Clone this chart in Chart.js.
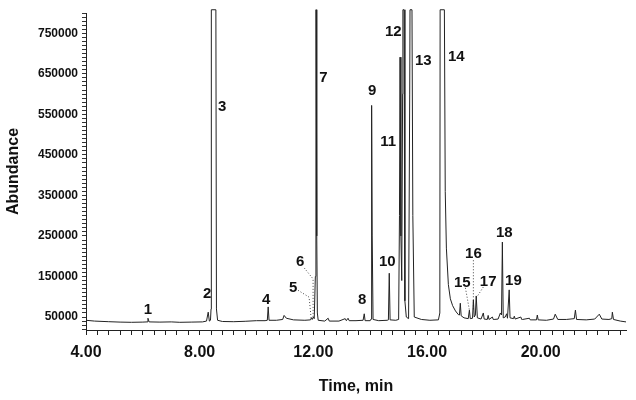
<!DOCTYPE html>
<html>
<head>
<meta charset="utf-8">
<script src="https://cdn.jsdelivr.net/npm/chart.js@4.4.1/dist/chart.umd.min.js"></script>
<style>
  html, body { margin: 0; padding: 0; background: #fff; }
  #wrap { width: 636px; height: 400px; }
</style>
</head>
<body>
<div id="wrap"><canvas id="gcChart" width="636" height="400"></canvas></div>
<script>
// chromatogram trace (time in min, abundance)
const times = [
  4.00, 4.30, 4.80, 5.20, 5.60, 6.00, 6.15, 6.18, 6.22, 6.60, 7.00, 7.30, 7.70, 8.10,
  8.24, 8.30, 8.34, 8.38, 8.40, 8.41, 8.57, 8.59, 8.63, 8.80, 9.20, 9.60, 10.00,
  10.30, 10.38, 10.41, 10.44, 10.70, 10.92, 10.97, 11.05, 11.30, 11.70, 11.90, 11.93, 11.96, 12.00, 12.03,
  12.07, 12.09, 12.10, 12.12, 12.14, 12.17, 12.40, 12.52, 12.56, 12.90, 13.12, 13.16, 13.22, 13.26, 13.50,
  13.75, 13.79, 13.82,
  14.00, 14.03, 14.05, 14.07, 14.10, 14.30, 14.60, 14.64, 14.67, 14.70, 14.90, 15.00, 15.03, 15.05, 15.08,
  15.11, 15.14, 15.15, 15.19, 15.22, 15.27, 15.35, 15.39, 15.40, 15.47, 15.50, 15.55, 15.80, 16.10, 16.40,
  16.45, 16.46, 16.61, 16.64, 16.68, 16.75, 16.82, 16.90, 17.00, 17.10, 17.14,
  17.17, 17.20, 17.30, 17.45, 17.49, 17.52, 17.60, 17.63, 17.66, 17.70, 17.73, 17.77, 17.90, 17.98, 18.01,
  18.12, 18.15, 18.18, 18.30, 18.33, 18.36, 18.50, 18.58, 18.62, 18.65, 18.68, 18.75, 18.80, 18.83, 18.89,
  18.92, 19.04, 19.07, 19.10, 19.30, 19.33, 19.36, 19.60, 19.63, 19.66, 19.85, 19.88, 19.91, 20.20, 20.45,
  20.51, 20.60, 20.90, 21.18, 21.22, 21.26, 21.60, 21.90, 22.06, 22.15, 22.40, 22.50, 22.52, 22.56, 22.80, 23.00
];
const abundance = [
  42000, 40000, 38500, 37500, 37000, 37500, 38000, 47000, 38000, 37500, 38000, 37000, 37500, 38000,
  40000, 62000, 40000, 42000, 70000, 808000, 808000, 70000, 42000, 39000, 38500, 39500, 41000,
  41000, 42000, 75000, 42000, 42000, 44000, 54000, 47000, 43000, 42000, 43000, 48000, 44000, 50000, 46000,
  150000, 808000, 808000, 250000, 60000, 42000, 40000, 47000, 40000, 40000, 46000, 41000, 47000, 41000, 41000,
  42000, 58000, 41000,
  41000, 45000, 572000, 250000, 44000, 41000, 42000, 43000, 158000, 43000, 42000, 44000, 300000, 691000, 250000,
  140000, 600000, 808000, 808000, 90000, 50000, 46000, 600000, 808000, 808000, 300000, 50000, 44000, 42000, 43000,
  60000, 808000, 808000, 360000, 220000, 130000, 95000, 78000, 65000, 56000, 55000,
  84000, 53000, 48000, 46000, 67000, 46000, 47000, 92000, 50000, 55000, 102000, 48000, 45000, 60000, 45000,
  44000, 54000, 44000, 50000, 44000, 44000, 45000, 60000, 55000, 235000, 48000, 50000, 58000, 47000, 117000,
  48000, 46000, 52000, 45000, 50000, 44000, 44000, 47000, 43000, 43000, 43000, 55000, 43000, 42000, 45000,
  57000, 44000, 44000, 46000, 67000, 44000, 43000, 45000, 57000, 45000, 44000, 46000, 62000, 44000, 40000, 38000
];

// peak numbers and where they sit
const peakNames = ['1','2','3','4','5','6','7','8','9','10','11','12','13','14','15','16','17','18','19'];
const peakLabelTime = [6.18, 8.26, 8.79, 10.34, 11.29, 11.54, 12.35, 13.72, 14.07, 14.60, 14.63, 14.81, 15.87, 17.03, 17.24, 17.63, 18.15, 18.72, 19.04];
const peakLabelAbund = [67000, 106000, 568000, 92000, 121000, 186000, 640000, 92000, 608000, 186000, 482000, 753000, 682000, 691000, 134000, 205000, 136000, 257000, 139000];

// dotted leader lines (5, 6, 15, 16, 17)
const leaderTimes = [
  [11.46, 11.85, 11.92],
  [11.68, 11.99, 11.99],
  [17.35, 17.49],
  [17.63, 17.63],
  [17.98, 17.73]
];
const leaderAbund = [
  [116000, 99000, 48000],
  [171000, 144000, 48000],
  [122000, 67000],
  [190000, 67000],
  [124000, 97000]
];

// axis ticks
const xMin = 4, xMax = 23, xStep = 0.4;
const yMin = 18000, yMax = 800000, yStep = 10000;

const FONT = "'Liberation Sans', Arial, Helvetica, sans-serif";

const peakLabelPlugin = {
  id: 'peakLabels',
  afterDatasetsDraw(chart) {
    const ctx = chart.ctx;
    const xs = chart.scales.x, ys = chart.scales.y;
    ctx.save();
    ctx.fillStyle = '#111';
    ctx.font = 'bold 15px ' + FONT;
    ctx.textAlign = 'center';
    ctx.textBaseline = 'middle';
    peakNames.forEach((name, i) => {
      ctx.fillText(name, xs.getPixelForValue(peakLabelTime[i]), ys.getPixelForValue(peakLabelAbund[i]));
    });
    ctx.restore();
  }
};

const datasets = [{
  data: times.map((t, i) => ({ x: t, y: abundance[i] })),
  borderColor: '#222',
  borderWidth: 1,
  pointRadius: 0,
  tension: 0,
  clip: { left: 0, top: 4, right: 0, bottom: 0 }
}];
leaderTimes.forEach((ts, k) => {
  datasets.push({
    data: ts.map((t, i) => ({ x: t, y: leaderAbund[k][i] })),
    borderColor: '#444',
    borderWidth: 1,
    borderDash: [1, 2],
    pointRadius: 0,
    tension: 0
  });
});

const ctx = document.getElementById('gcChart').getContext('2d');
new Chart(ctx, {
  type: 'line',
  data: { datasets },
  options: {
    responsive: false,
    animation: false,
    layout: { padding: { top: 13, right: 10, left: 0, bottom: 0 } },
    plugins: { legend: { display: false }, tooltip: { enabled: false } },
    scales: {
      x: {
        type: 'linear',
        min: xMin,
        max: xMax,
        afterBuildTicks: (scale) => {
          const arr = [];
          for (let k = 0; xMin + k * xStep <= xMax - 0.1; k++) {
            arr.push({ value: Math.round((xMin + k * xStep) * 10) / 10 });
          }
          scale.ticks = arr;
        },
        afterFit: (scale) => { scale.height = 70; },
        grid: { drawOnChartArea: false, drawTicks: true, tickLength: 5, tickColor: '#222' },
        border: { display: true, color: '#222', width: 1 },
        ticks: {
          autoSkip: false,
          maxRotation: 0,
          minRotation: 0,
          padding: 8,
          color: '#111',
          font: { family: FONT, size: 16, weight: 'bold' },
          callback: (v) => (Math.abs(v % 4) < 1e-6 ? v.toFixed(2) : '')
        },
        title: {
          display: true,
          text: 'Time, min',
          color: '#111',
          font: { family: FONT, size: 16, weight: 'bold' },
          padding: { top: 4, bottom: 4 }
        }
      },
      y: {
        type: 'linear',
        min: yMin,
        max: yMax,
        afterBuildTicks: (scale) => {
          const arr = [];
          for (let v = 20000; v <= yMax; v += yStep) arr.push({ value: v });
          scale.ticks = arr;
        },
        afterFit: (scale) => { scale.width = 86; },
        grid: { drawOnChartArea: false, drawTicks: true, tickLength: 4, tickColor: '#333' },
        border: { display: true, color: '#222', width: 1 },
        ticks: {
          autoSkip: false,
          padding: 4,
          color: '#111',
          font: { family: FONT, size: 12, weight: 'bold' },
          callback: (v) => ((v - 50000) % 100000 === 0 ? String(v) : '')
        },
        title: {
          display: true,
          text: 'Abundance',
          color: '#111',
          font: { family: FONT, size: 16, weight: 'bold' },
          padding: { top: 4, bottom: 4 }
        }
      }
    }
  },
  plugins: [peakLabelPlugin]
});
</script>
</body>
</html>
